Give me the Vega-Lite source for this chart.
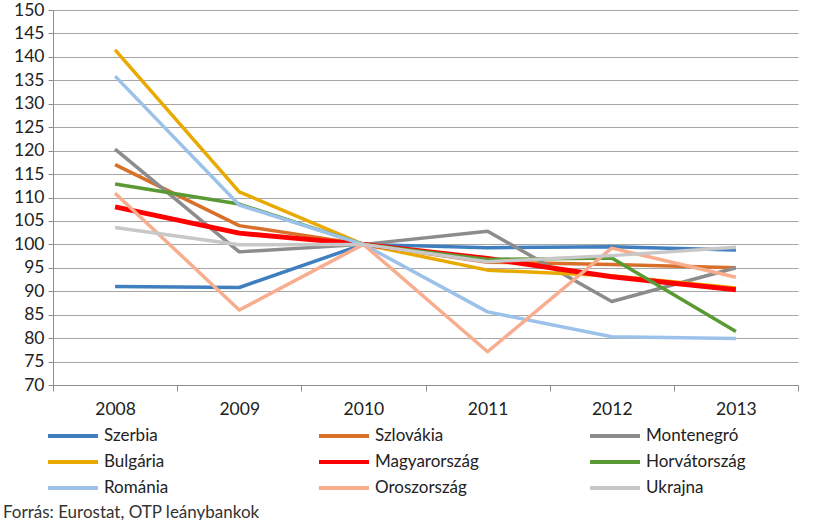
{
  "$schema": "https://vega.github.io/schema/vega-lite/v6.json",
  "width": 745,
  "height": 375,
  "autosize": {"type": "none"},
  "padding": {"left": 53, "top": 10, "right": 21, "bottom": 135},
  "background": "white",
  "title": {
    "text": "Forrás: Eurostat, OTP leánybankok",
    "orient": "bottom",
    "anchor": "start",
    "frame": "group",
    "dx": -50,
    "offset": 4,
    "font": "Lato",
    "fontSize": 17,
    "fontWeight": "normal",
    "color": "#333333"
  },
  "config": {
    "view": {"stroke": null},
    "font": "Lato"
  },
  "data": {
    "values": [
      {"year": "2008", "country": "Szerbia", "value": 91.0},
      {"year": "2009", "country": "Szerbia", "value": 90.8},
      {"year": "2010", "country": "Szerbia", "value": 100},
      {"year": "2011", "country": "Szerbia", "value": 99.3},
      {"year": "2012", "country": "Szerbia", "value": 99.5},
      {"year": "2013", "country": "Szerbia", "value": 98.8},
      {"year": "2008", "country": "Szlovákia", "value": 117.0},
      {"year": "2009", "country": "Szlovákia", "value": 104.0},
      {"year": "2010", "country": "Szlovákia", "value": 100},
      {"year": "2011", "country": "Szlovákia", "value": 96.2},
      {"year": "2012", "country": "Szlovákia", "value": 95.7},
      {"year": "2013", "country": "Szlovákia", "value": 95.0},
      {"year": "2008", "country": "Montenegró", "value": 120.3},
      {"year": "2009", "country": "Montenegró", "value": 98.4},
      {"year": "2010", "country": "Montenegró", "value": 100},
      {"year": "2011", "country": "Montenegró", "value": 102.8},
      {"year": "2012", "country": "Montenegró", "value": 87.8},
      {"year": "2013", "country": "Montenegró", "value": 95.0},
      {"year": "2008", "country": "Bulgária", "value": 141.5},
      {"year": "2009", "country": "Bulgária", "value": 111.2},
      {"year": "2010", "country": "Bulgária", "value": 100},
      {"year": "2011", "country": "Bulgária", "value": 94.5},
      {"year": "2012", "country": "Bulgária", "value": 93.3},
      {"year": "2013", "country": "Bulgária", "value": 90.7},
      {"year": "2008", "country": "Magyarország", "value": 108.0},
      {"year": "2009", "country": "Magyarország", "value": 102.4},
      {"year": "2010", "country": "Magyarország", "value": 100},
      {"year": "2011", "country": "Magyarország", "value": 97.0},
      {"year": "2012", "country": "Magyarország", "value": 93.1},
      {"year": "2013", "country": "Magyarország", "value": 90.3},
      {"year": "2008", "country": "Horvátország", "value": 112.9},
      {"year": "2009", "country": "Horvátország", "value": 108.6},
      {"year": "2010", "country": "Horvátország", "value": 100},
      {"year": "2011", "country": "Horvátország", "value": 96.8},
      {"year": "2012", "country": "Horvátország", "value": 97.1},
      {"year": "2013", "country": "Horvátország", "value": 81.4},
      {"year": "2008", "country": "Románia", "value": 135.9},
      {"year": "2009", "country": "Románia", "value": 108.4},
      {"year": "2010", "country": "Románia", "value": 100},
      {"year": "2011", "country": "Románia", "value": 85.6},
      {"year": "2012", "country": "Románia", "value": 80.3},
      {"year": "2013", "country": "Románia", "value": 79.9},
      {"year": "2008", "country": "Oroszország", "value": 110.9},
      {"year": "2009", "country": "Oroszország", "value": 86.0},
      {"year": "2010", "country": "Oroszország", "value": 100},
      {"year": "2011", "country": "Oroszország", "value": 77.1},
      {"year": "2012", "country": "Oroszország", "value": 99.2},
      {"year": "2013", "country": "Oroszország", "value": 93.0},
      {"year": "2008", "country": "Ukrajna", "value": 103.6},
      {"year": "2009", "country": "Ukrajna", "value": 99.9},
      {"year": "2010", "country": "Ukrajna", "value": 100},
      {"year": "2011", "country": "Ukrajna", "value": 96.3},
      {"year": "2012", "country": "Ukrajna", "value": 97.6},
      {"year": "2013", "country": "Ukrajna", "value": 99.4}
    ]
  },
  "mark": {"type": "line", "strokeJoin": "round", "strokeCap": "butt"},
  "encoding": {
    "x": {
      "field": "year",
      "type": "ordinal",
      "scale": {"paddingInner": 0, "paddingOuter": 0},
      "axis": {
        "title": null,
        "labelAngle": 0,
        "tickBand": "extent",
        "tickSize": 6,
        "tickColor": "#8c8c8c",
        "domainColor": "#8c8c8c",
        "labelFont": "Lato",
        "labelFontSize": 17.5,
        "labelColor": "#222222",
        "labelPadding": 9,
        "grid": false
      }
    },
    "y": {
      "field": "value",
      "type": "quantitative",
      "scale": {"domain": [70, 150], "nice": false, "zero": false},
      "axis": {
        "title": null,
        "values": [70, 75, 80, 85, 90, 95, 100, 105, 110, 115, 120, 125, 130, 135, 140, 145, 150],
        "tickSize": 5,
        "tickColor": "#8c8c8c",
        "domainColor": "#8c8c8c",
        "gridColor": "#a6a6a6",
        "gridWidth": 1,
        "labelFont": "Lato",
        "labelFontSize": 17.5,
        "labelColor": "#222222",
        "labelPadding": 4
      }
    },
    "color": {
      "field": "country",
      "type": "nominal",
      "scale": {
        "domain": ["Szerbia", "Szlovákia", "Montenegró", "Bulgária", "Magyarország", "Horvátország", "Románia", "Oroszország", "Ukrajna"],
        "range": ["#3f7fc0", "#d9702a", "#8c8c8c", "#e8a900", "#ff0000", "#5a9a34", "#9cc2ea", "#f7ad8e", "#c8c8c8"]
      },
      "legend": {
        "title": null,
        "orient": "none",
        "legendX": -7,
        "legendY": 413,
        "direction": "horizontal",
        "columns": 3,
        "gridAlign": "all",
        "columnPadding": 109,
        "rowPadding": 0,
        "clipHeight": 26,
        "symbolType": "stroke",
        "symbolSize": 2500,
        "symbolStrokeWidth": 4,
        "labelFont": "Lato",
        "labelFontSize": 17,
        "labelColor": "#222222",
        "labelOffset": 4,
        "labelLimit": 200
      }
    },
    "strokeWidth": {
      "condition": {"test": "datum.country === 'Magyarország'", "value": 5},
      "value": 3.5
    }
  }
}
